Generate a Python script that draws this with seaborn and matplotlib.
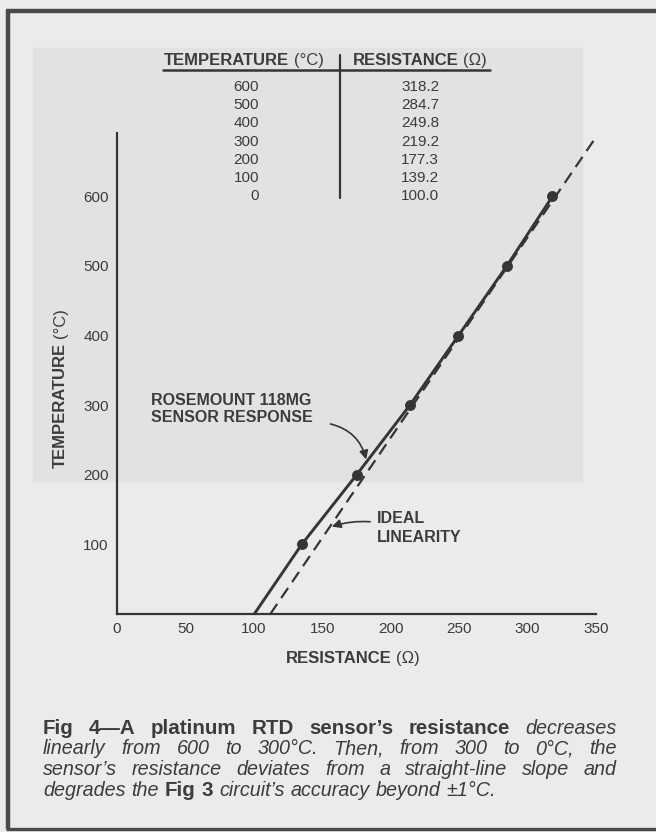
import matplotlib
matplotlib.use("Agg")
import matplotlib.pyplot as plt
from matplotlib.lines import Line2D
from matplotlib.patches import Rectangle
import numpy as np
import pandas as pd
import seaborn as sns

# ---------------- data ----------------
table_temperature = [600, 500, 400, 300, 200, 100, 0]
table_resistance = ["318.2", "284.7", "249.8", "219.2", "177.3", "139.2", "100.0"]

# sensor response as drawn on the chart (resistance in ohms, temperature in °C)
sensor_resistance = [100.3, 135.0, 175.1, 214.0, 249.5, 284.8, 318.2]
sensor_temperature = [0, 100, 200, 300, 400, 500, 600]

# ideal linearity line end points
ideal_resistance = [112.0, 351.0]
ideal_temperature = [0, 688]

x_ticks = [0, 50, 100, 150, 200, 250, 300, 350]
y_ticks = [100, 200, 300, 400, 500, 600]

# ---------------- style ----------------
W, H = 656, 832
BG = "#ebebeb"
SHADE = "#e2e2e2"
INK = "#353535"
TXT = "#3c3c3c"

sns.set_theme(style="white")
plt.rcParams["font.family"] = ["Liberation Sans", "DejaVu Sans"]

fig = plt.figure(figsize=(W / 100, H / 100), dpi=100)
fig.patch.set_facecolor(BG)
renderer = fig.canvas.get_renderer()


def fx(x):
    return x / W


def fy(y):
    return 1 - y / H


# scan shading and border
fig.add_artist(Rectangle((fx(33), fy(481)), (582 - 33) / W, (481 - 48) / H,
                         transform=fig.transFigure, color=SHADE, zorder=-5))
for (x0, y0, x1, y1, lw) in [(7.5, 10, 7.5, 829, 3.2), (6, 10.5, 656, 10.5, 3.2),
                              (6, 828.5, 656, 828.5, 2.4)]:
    fig.add_artist(Line2D([fx(x0), fx(x1)], [fy(y0), fy(y1)], transform=fig.transFigure,
                          color="#4a4a4a", lw=lw, solid_capstyle="butt"))


def runs(x, y, parts, size, color=TXT, rotation=0, gap=None):
    """Draw consecutive text runs with different weights/styles."""
    sp = size * 100 / 72 * 0.278 if gap is None else gap
    cur = x if rotation == 0 else y
    for txt, weight, style in parts:
        if rotation == 0:
            t = fig.text(fx(cur), fy(y), txt, fontsize=size, fontweight=weight,
                         fontstyle=style, color=color, ha="left", va="baseline")
            cur += t.get_window_extent(renderer).width + sp
        else:
            t = fig.text(fx(x), fy(cur), txt, fontsize=size, fontweight=weight,
                         fontstyle=style, color=color, ha="left", va="baseline",
                         rotation=90, rotation_mode="anchor")
            cur -= t.get_window_extent(renderer).height + sp


# ---------------- axes ----------------
ax = fig.add_axes([fx(117), fy(614), (596 - 117) / W, (614 - 133) / H])
ax.set_zorder(2)
ax.patch.set_alpha(0)
ax.set_xlim(0, 350)
ax.set_ylim(0, 691)

sensor_df = pd.DataFrame({"resistance": sensor_resistance, "temperature": sensor_temperature})
ideal_df = pd.DataFrame({"resistance": ideal_resistance, "temperature": ideal_temperature})

sns.lineplot(data=ideal_df, x="resistance", y="temperature", ax=ax, color=INK, lw=1.6,
             linestyle=(0, (5.5, 3.2)), sort=False, clip_on=False, zorder=2)
sns.lineplot(data=sensor_df, x="resistance", y="temperature", ax=ax, color=INK, lw=2.1,
             sort=False, zorder=3)
sns.scatterplot(data=sensor_df[sensor_df["temperature"] > 0], x="resistance", y="temperature",
                ax=ax, color=INK, s=62, edgecolor=INK, linewidth=0, zorder=4)

ax.set_xticks(x_ticks)
ax.set_xticklabels([str(v) for v in x_ticks])
ax.set_yticks(y_ticks + [691])
ax.set_yticklabels([str(v) for v in y_ticks] + [""])
ax.tick_params(direction="in", length=7, width=1.3, colors=INK, labelsize=11, pad=6,
               labelcolor=TXT)
for s in ["top", "right"]:
    ax.spines[s].set_visible(False)
for s in ["left", "bottom"]:
    ax.spines[s].set_color(INK)
    ax.spines[s].set_linewidth(1.6)
ax.set_xlabel("")
ax.set_ylabel("")

# axis labels (bold word + regular unit)
runs(286, 663, [("RESISTANCE", "bold", "normal"), ("(Ω)", "normal", "normal")], 12)
runs(65, 468, [("TEMPERATURE", "bold", "normal"), ("(°C)", "normal", "normal")], 12,
     rotation=90)

# annotations
runs(151, 405, [("ROSEMOUNT 118MG", "bold", "normal")], 11.5)
runs(151, 422, [("SENSOR RESPONSE", "bold", "normal")], 11.5)
runs(377, 523, [("IDEAL", "bold", "normal")], 11.5)
runs(377, 541.5, [("LINEARITY", "bold", "normal")], 11.5)

ax.annotate("", xy=(182, 222), xytext=(156, 273),
            arrowprops=dict(arrowstyle="-|>", connectionstyle="arc3,rad=-0.3",
                            color=INK, lw=1.2, mutation_scale=13, shrinkA=0, shrinkB=0))
ax.annotate("", xy=(157, 125.5), xytext=(185, 132.5),
            arrowprops=dict(arrowstyle="-|>", connectionstyle="arc3,rad=0.1",
                            color=INK, lw=1.2, mutation_scale=13, shrinkA=0, shrinkB=0))

# ---------------- table ----------------
runs(164, 65, [("TEMPERATURE", "bold", "normal"), ("(°C)", "normal", "normal")], 12)
runs(353, 65, [("RESISTANCE", "bold", "normal"), ("(Ω)", "normal", "normal")], 12)
fig.add_artist(Line2D([fx(163), fx(490)], [fy(70), fy(70)], transform=fig.transFigure,
                      color=INK, lw=1.8))
fig.add_artist(Line2D([fx(340), fx(340)], [fy(55), fy(198)], transform=fig.transFigure,
                      color=INK, lw=1.6))
for i, (t, r) in enumerate(zip(table_temperature, table_resistance)):
    yb = 91 + 18.2 * i
    fig.text(fx(259), fy(yb), str(t), fontsize=11, color=TXT, ha="right", va="baseline")
    fig.text(fx(401), fy(yb), r, fontsize=11, color=TXT, ha="left", va="baseline")

# ---------------- caption (justified) ----------------
B, I = ("bold", "normal"), ("normal", "italic")
caption_lines = [
    [("Fig", *B), ("4—A", *B), ("platinum", *B), ("RTD", *B), ("sensor’s", *B),
     ("resistance", *B), ("decreases", *I)],
    [(w, *I) for w in "linearly from 600 to 300°C. Then, from 300 to 0°C, the".split()],
    [(w, *I) for w in "sensor’s resistance deviates from a straight-line slope and".split()],
    [(w, *I) for w in "degrades the".split()] + [("Fig", *B), ("3", *B)]
    + [(w, *I) for w in "circuit’s accuracy beyond ±1°C.".split()],
]
CAP_SIZE = 14.2
CAP_BOLD = 14.8
left, right = 43, 617
for li, words in enumerate(caption_lines):
    yb = 733.5 + 20.7 * li
    texts = []
    for w, weight, style in words:
        t = fig.text(0, 0, w, fontsize=CAP_BOLD if weight == "bold" else CAP_SIZE,
                     fontweight=weight, fontstyle=style,
                     color=TXT, ha="left", va="baseline")
        texts.append((t, t.get_window_extent(renderer).width))
    total = sum(wd for _, wd in texts)
    if li < len(caption_lines) - 1:
        gap = (right - left - total) / (len(texts) - 1)
    else:
        gap = CAP_SIZE * 100 / 72 * 0.3
    cur = left
    for t, wd in texts:
        t.set_position((fx(cur), fy(yb)))
        cur += wd + gap

fig.savefig("out.png", dpi=100, facecolor=BG)
